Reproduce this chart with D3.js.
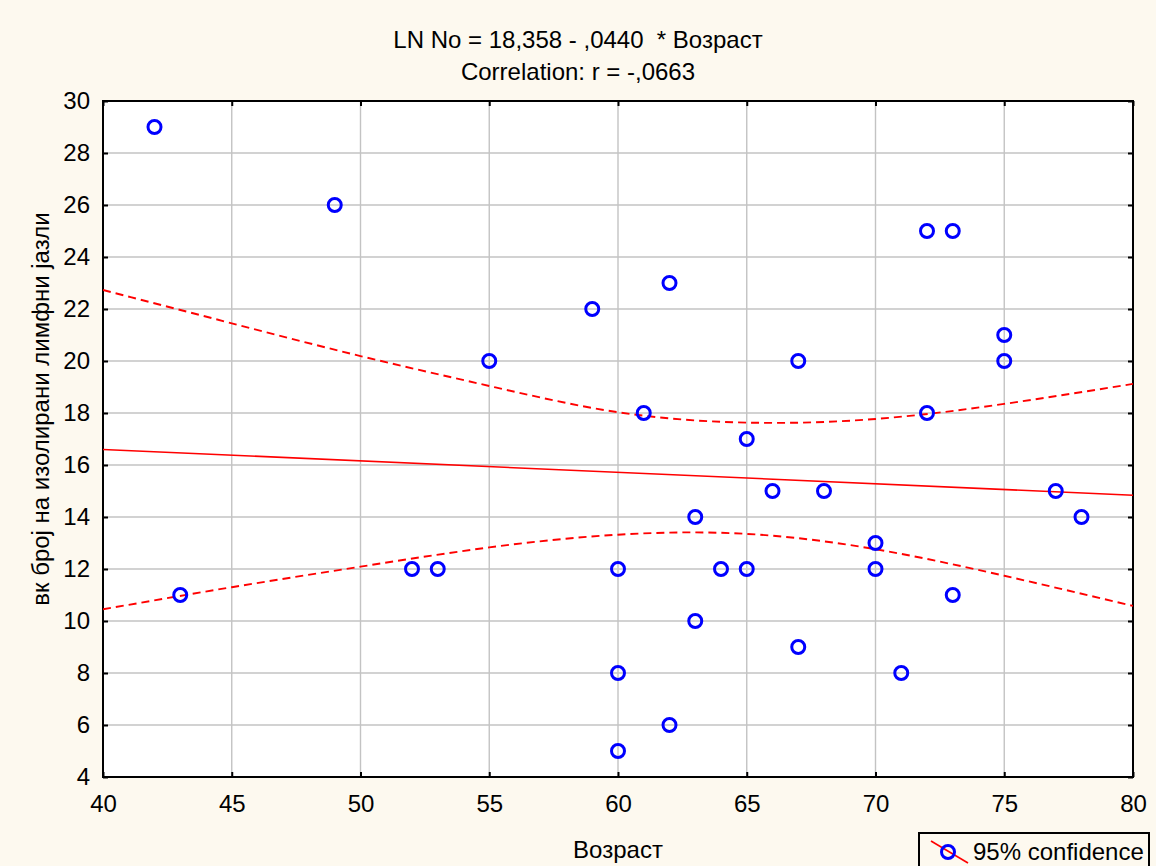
<!DOCTYPE html>
<html>
<head>
<meta charset="utf-8">
<script src="https://cdn.jsdelivr.net/npm/d3@7"></script>
<style>
  html, body { margin: 0; padding: 0; background: #fdf9ef; }
  svg { display: block; }
  text { font-family: "Liberation Sans", Arial, sans-serif; fill: #000; }
</style>
</head>
<body>
<svg id="chart" width="1156" height="866"></svg>
<script>
// Age (Возраст) and number of isolated lymph nodes for each patient
const ages   = [42, 49, 43, 52, 53, 55, 59, 60, 60, 60, 61, 62, 62, 63, 63, 64, 65,
                65, 66, 67, 67, 68, 70, 70, 71, 72, 72, 73, 73, 75, 75, 77, 78];
const counts = [29, 26, 11, 12, 12, 20, 22, 12,  8,  5, 18, 23,  6, 14, 10, 12, 17,
                12, 15, 20,  9, 15, 13, 12,  8, 25, 18, 25, 11, 21, 20, 15, 14];

// Fitted line: LN No = 18,358 - ,0440 * Возраст
const intercept = 18.358;
const slope = -0.0440;

// 95% confidence band of the fit
const bandAges  = [40, 45, 50, 55, 60, 65, 70, 75, 80];
const upperBand = [22.73, 21.45, 20.19, 19.04, 18.03, 17.63, 17.77, 18.35, 19.12];
const lowerBand = [10.45, 11.30, 12.09, 12.83, 13.32, 13.35, 12.76, 11.74, 10.58];

const xTicks = [40, 45, 50, 55, 60, 65, 70, 75, 80];
const yTicks = [4, 6, 8, 10, 12, 14, 16, 18, 20, 22, 24, 26, 28, 30];

const titleLines = ["LN No = 18,358 - ,0440  * Возраст", "Correlation: r = -,0663"];
const xTitle = "Возраст";
const yTitle = "вк број на изолирани лимфни јазли";
const legendLabel = "95% confidence";

const svg = d3.select("#chart");
const W = 1156, H = 866;
const plot = { left: 103, right: 1133, top: 101, bottom: 777 };
const fontSize = 24;

svg.append("rect").attr("width", W).attr("height", H).attr("fill", "#fdf9ef");

const x = d3.scaleLinear().domain([40, 80]).range([plot.left, plot.right]);
const y = d3.scaleLinear().domain([4, 30]).range([plot.bottom, plot.top]);

// plot background
svg.append("rect")
  .attr("x", plot.left).attr("y", plot.top)
  .attr("width", plot.right - plot.left).attr("height", plot.bottom - plot.top)
  .attr("fill", "#ffffff");

// grid
const grid = svg.append("g").attr("stroke", "#c3c3c3").attr("stroke-width", 1.4);
grid.selectAll("line.v").data(xTicks.slice(1, -1)).join("line")
  .attr("x1", d => x(d)).attr("x2", d => x(d))
  .attr("y1", plot.top).attr("y2", plot.bottom);
grid.selectAll("line.h").data(yTicks.slice(1, -1)).join("line")
  .attr("y1", d => y(d)).attr("y2", d => y(d))
  .attr("x1", plot.left).attr("x2", plot.right);

// axes with inward ticks
function styleAxis(g) {
  g.selectAll(".domain").remove();
  g.selectAll(".tick line").attr("stroke", "#000").attr("stroke-width", 2);
  g.selectAll(".tick text")
    .attr("font-family", "Liberation Sans, Arial, sans-serif")
    .attr("font-size", fontSize).attr("fill", "#000");
}
svg.append("g").attr("transform", `translate(0,${plot.bottom})`)
  .call(d3.axisBottom(x).tickValues(xTicks).tickSizeInner(-5).tickSizeOuter(0).tickPadding(18))
  .call(styleAxis);
svg.append("g").attr("transform", `translate(0,${plot.top})`)
  .call(d3.axisTop(x).tickValues(xTicks).tickSizeInner(-5).tickSizeOuter(0).tickFormat(""))
  .call(styleAxis);
svg.append("g").attr("transform", `translate(${plot.left},0)`)
  .call(d3.axisLeft(y).tickValues(yTicks).tickSizeInner(-5).tickSizeOuter(0).tickPadding(13))
  .call(styleAxis);
svg.append("g").attr("transform", `translate(${plot.right},0)`)
  .call(d3.axisRight(y).tickValues(yTicks).tickSizeInner(-5).tickSizeOuter(0).tickFormat(""))
  .call(styleAxis);

// frame
svg.append("rect")
  .attr("x", plot.left).attr("y", plot.top)
  .attr("width", plot.right - plot.left).attr("height", plot.bottom - plot.top)
  .attr("fill", "none").attr("stroke", "#000").attr("stroke-width", 2);

svg.append("clipPath").attr("id", "plotclip").append("rect")
  .attr("x", plot.left).attr("y", plot.top)
  .attr("width", plot.right - plot.left).attr("height", plot.bottom - plot.top);

const marks = svg.append("g").attr("clip-path", "url(#plotclip)");

// confidence band
const bandLine = d3.line().x(d => x(d[0])).y(d => y(d[1])).curve(d3.curveNatural);
[upperBand, lowerBand].forEach(band => {
  marks.append("path")
    .datum(bandAges.map((a, i) => [a, band[i]]))
    .attr("d", bandLine)
    .attr("fill", "none").attr("stroke", "#ff0000")
    .attr("stroke-width", 1.9).attr("stroke-dasharray", "8,5");
});

// regression line
const xDom = x.domain();
marks.append("line")
  .attr("x1", x(xDom[0])).attr("y1", y(intercept + slope * xDom[0]))
  .attr("x2", x(xDom[1])).attr("y2", y(intercept + slope * xDom[1]))
  .attr("stroke", "#ff0000").attr("stroke-width", 1.6);

// observations
svg.append("g").selectAll("circle").data(ages.map((a, i) => [a, counts[i]])).join("circle")
  .attr("cx", d => x(d[0])).attr("cy", d => y(d[1])).attr("r", 6.5)
  .attr("fill", "none").attr("stroke", "#0000ff").attr("stroke-width", 3);

// titles
const title = svg.append("text").attr("text-anchor", "middle")
  .attr("font-size", fontSize).style("white-space", "pre");
title.selectAll("tspan").data(titleLines).join("tspan")
  .attr("x", W / 2).attr("y", (d, i) => 48 + i * 31.5).text(d => d);

svg.append("text").attr("x", (plot.left + plot.right) / 2).attr("y", 858)
  .attr("text-anchor", "middle").attr("font-size", fontSize).text(xTitle);

svg.append("text")
  .attr("transform", `translate(49,409) rotate(-90)`)
  .attr("text-anchor", "middle").attr("font-size", fontSize).text(yTitle);

// legend
const lg = svg.append("g");
lg.append("rect").attr("x", 919).attr("y", 833).attr("width", 230).attr("height", 50)
  .attr("fill", "#fdf9ef").attr("stroke", "#000").attr("stroke-width", 2);
lg.append("line").attr("x1", 931).attr("y1", 841).attr("x2", 968).attr("y2", 863)
  .attr("stroke", "#ff0000").attr("stroke-width", 1.6);
lg.append("circle").attr("cx", 948).attr("cy", 852).attr("r", 6.5)
  .attr("fill", "none").attr("stroke", "#0000ff").attr("stroke-width", 3);
lg.append("text").attr("x", 973).attr("y", 860).attr("font-size", fontSize).text(legendLabel);
</script>
</body>
</html>
